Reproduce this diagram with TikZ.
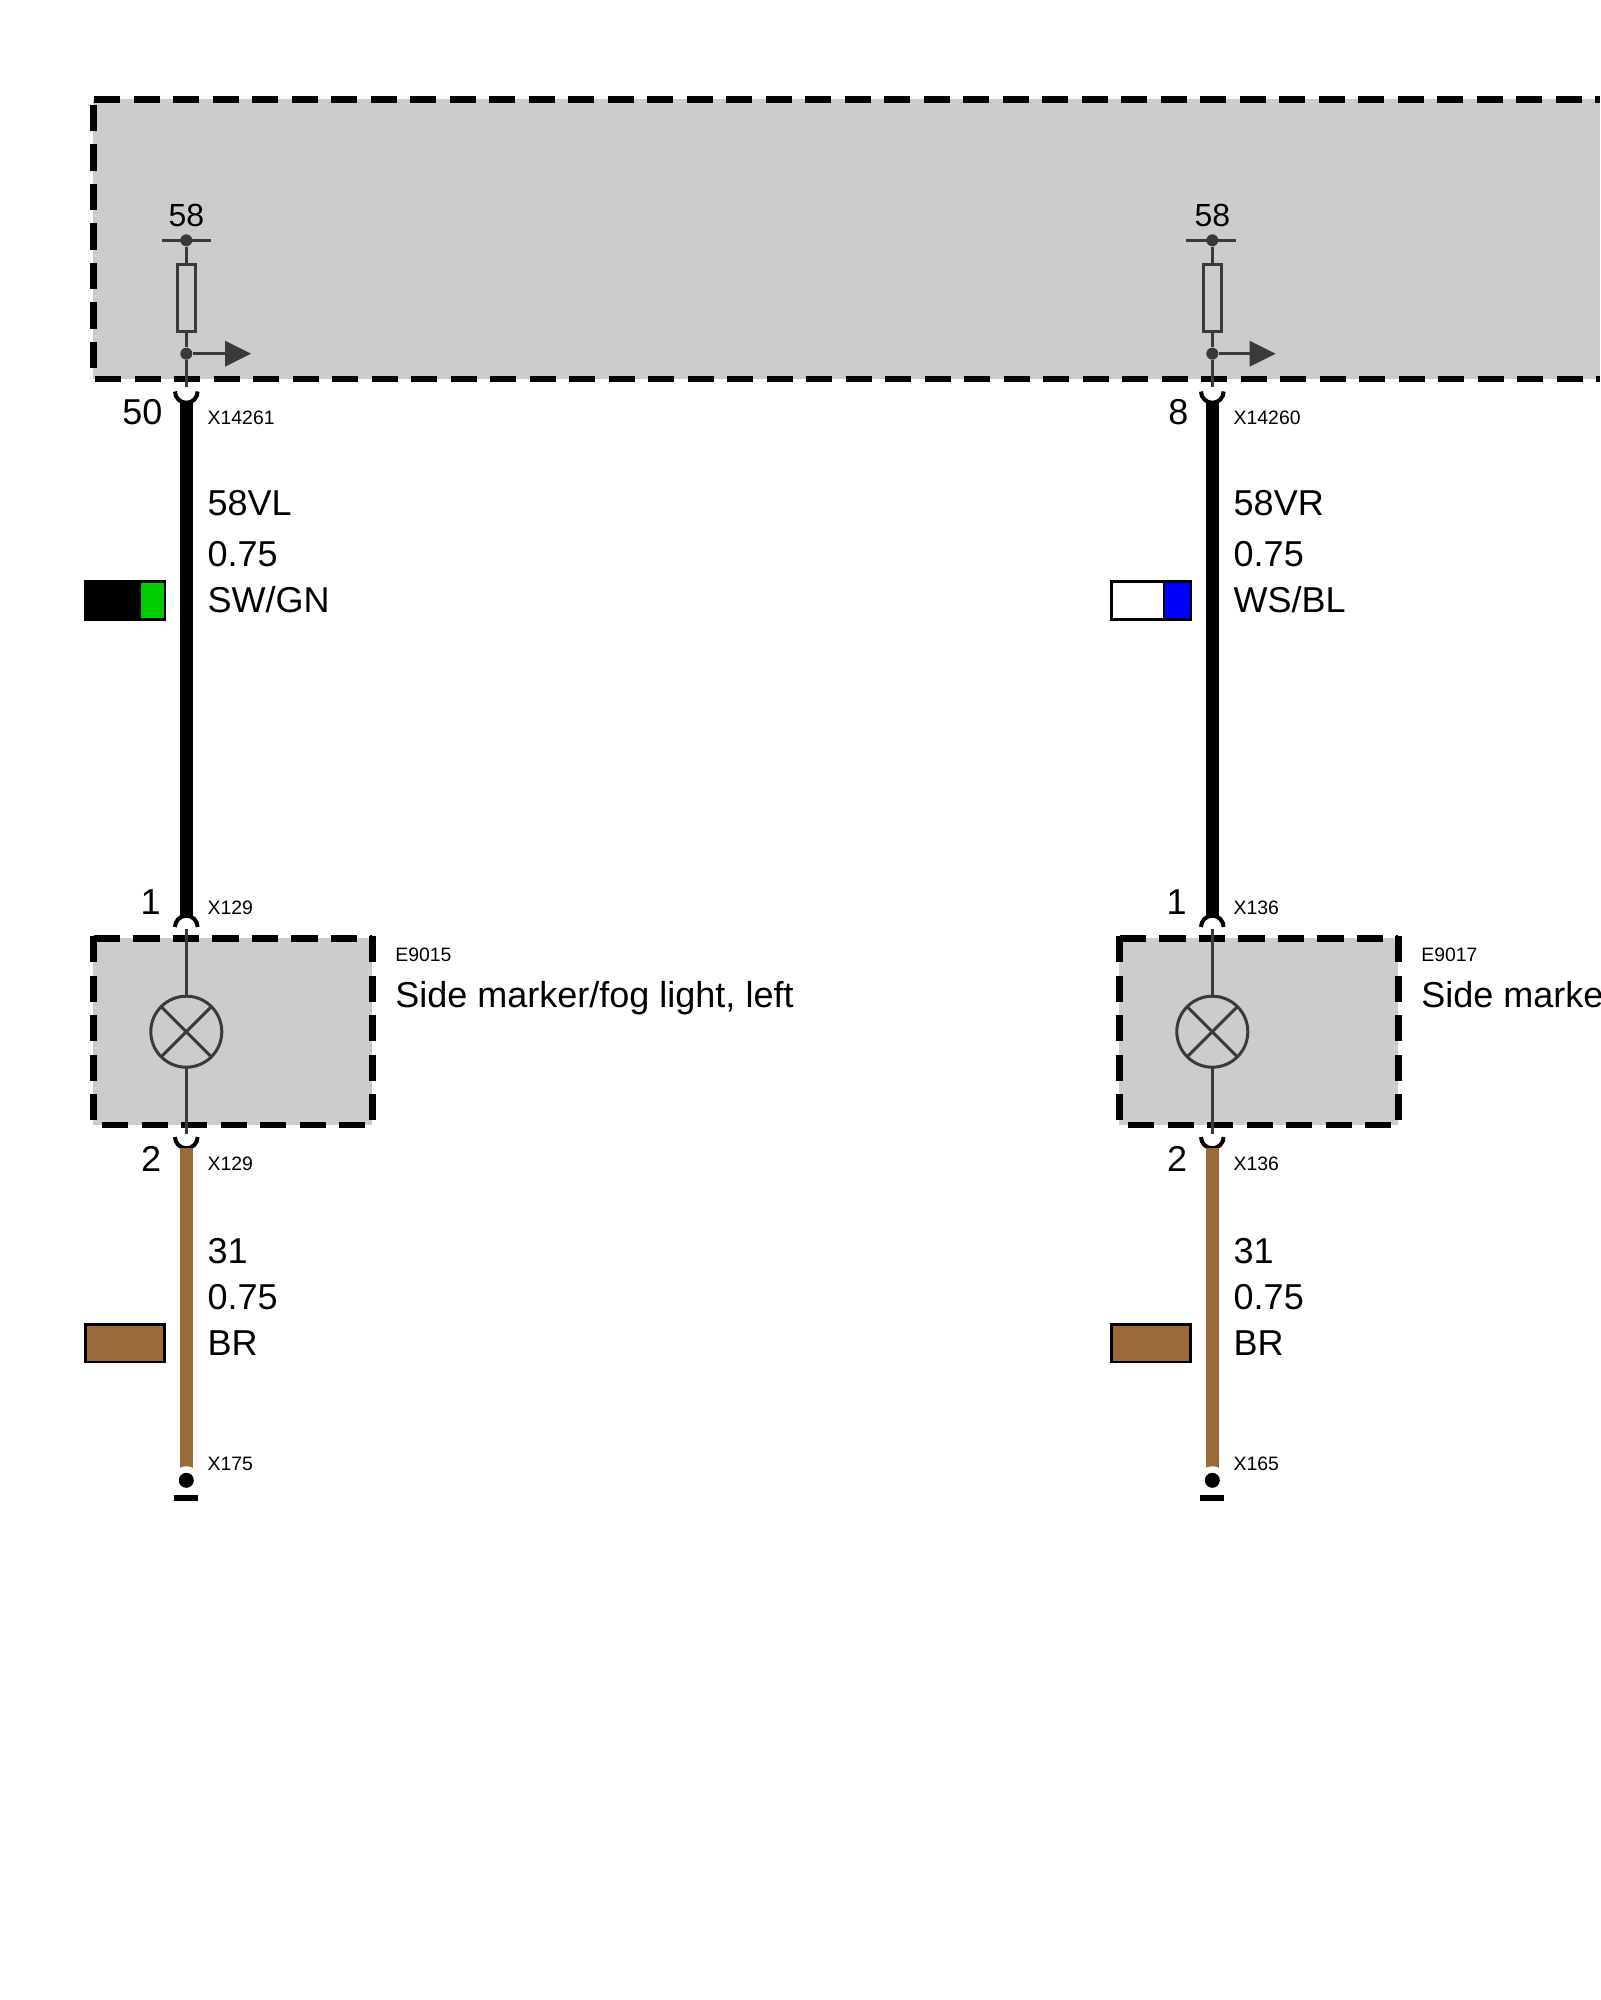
\documentclass[tikz,border=0pt]{standalone}
\usepackage{fontspec}
\setmainfont{Liberation Sans}
\definecolor{boxgrey}{HTML}{CCCCCC}
\definecolor{symb}{HTML}{3A3A3A}
\definecolor{brownw}{HTML}{9A6A38}
\definecolor{greenw}{HTML}{00CC00}
\definecolor{bluew}{HTML}{0000FF}
\tikzset{
  boxdash/.style={line width=3.3pt,dash pattern=on 13.2pt off 6.55pt,black},
  symline/.style={draw=symb,line width=1.5pt},
  symdot/.style={circle,fill=symb,inner sep=0pt,minimum size=6pt,name=#1},
  fuse/.style={rectangle,draw=symb,line width=1.5pt,fill=boxgrey,inner sep=0pt,outer sep=0pt,minimum width=8.9pt,minimum height=33.5pt},
  lamp/.style={circle,draw=symb,line width=1.5pt,inner sep=0pt,outer sep=0pt,minimum size=35.5pt},
  thickwire/.style={line width=6.3pt},
  cup/.style={draw=black,line width=2pt},
  legend/.style={rectangle,draw=black,line width=1.4pt,inner sep=0pt,outer sep=0pt,minimum height=18.7pt,minimum width=39.8pt},
  big/.style={anchor=base west,inner sep=0pt,font=\fontsize{18}{20}\selectfont},
  bigr/.style={anchor=base east,inner sep=0pt,font=\fontsize{18}{20}\selectfont},
  small/.style={anchor=base west,inner sep=0pt,font=\fontsize{9.7}{12}\selectfont},
  term/.style={anchor=base,inner sep=0pt,font=\fontsize{16}{18}\selectfont},
}
% #1 x shift #2 pin label pos #3 conn top #4 pin #5 wire name #6 colour legend and extras
% #7 conn lamp #8 comp code #9 comp name
\newcommand{\wirecolumn}[9]{%
  \begin{scope}[xshift=#1*0.5pt]
  \ifnum#1=0 \def\bs{0}\else\def\bs{-1.4}\fi
  % component box
  \fill[boxgrey] (93,938) rectangle (372,1125);
  \draw[boxdash] (93.7,938.3) -- (372,938.3);
  \draw[boxdash] (93.3,936) -- (93.3,1128);
  \draw[boxdash] (372.3,936) -- (372.3,1128);
  \draw[boxdash] (102,1125) -- (372,1125);
  % fuse block
  \node[term] (t58) at (186.3,227) {58};
  \node[symdot=hub] at (186.3,240.3) {};
  \coordinate (barL) at (161.7+\bs,240.3);
  \coordinate (barR) at (211.3+\bs,240.3);
  \draw[symline] (barL) -- (barR);
  \node[fuse] (fuse) at (186.3,298.5) {};
  \node[symdot=tap] at (186.3,353.7) {};
  \coordinate (tip) at (251+\bs,353.7);
  \coordinate (pinOut) at (186.3,387);
  \draw[symline] (hub) -- (fuse);
  \draw[symline] (fuse) -- (tap);
  \draw[symline] (tap) -- (pinOut);
  \draw[symline] (tap) -- (225+\bs,353.7);
  \fill[symb] (225+\bs,340.7) -- (tip) -- (225+\bs,366.7) -- cycle;
  % upper connector + wire
  \coordinate (cupA) at (186.3,402);
  \coordinate (cupB) at (186.3,916.5);
  \draw[cup] (175,391.5) arc[start angle=180,end angle=360,radius=5.65pt];
  \draw[cup] (175,927) arc[start angle=180,end angle=0,radius=5.65pt];
  \draw[thickwire,black] (cupA) -- (cupB);
  % lamp
  \node[lamp] (lamp) at (186.3,1031.7) {};
  \coordinate (lampIn) at (186.3,929.3);
  \coordinate (lampOut) at (186.3,1134);
  \draw[symline] (lampIn) -- (lamp);
  \draw[symline] (lamp) -- (lampOut);
  \draw[symline] (lamp.45) -- (lamp.225);
  \draw[symline] (lamp.135) -- (lamp.315);
  % lower connector + wire
  \coordinate (cupC) at (186.3,1148);
  \draw[cup] (175,1137) arc[start angle=180,end angle=360,radius=5.65pt];
  \node[circle,fill=black,inner sep=0pt,minimum size=7.5pt] (gnd) at (186.3,1480.3) {};
  \coordinate (gndTop) at (186.3,1470);
  \draw[thickwire,brownw] (cupC) -- (gndTop);
  \fill[white] (gnd) circle[radius=7pt];
  \node[circle,fill=black,inner sep=0pt,minimum size=7.5pt] at (gnd) {};
  \fill[black] (174.3,1495.3) rectangle (198.3,1501.3);
  % legends
  \node[legend,fill=brownw] (lgB) at (125,1343.2) {};
  #6
  % texts
  \node[small] at (207.3,424.3) {#3};
  \node[bigr] at (#2) {#4};
  \node[big] at (207.3,516) {#5};
  \node[big] at (207.3,566) {0.75};
  \node[small] at (207.3,914) {#7};
  \node[bigr] at (161,914.5) {1};
  \node[bigr] at (161.5,1171) {2};
  \node[small] at (207.3,1170.7) {#7};
  \node[small] at (395,961) {#8};
  \node[big] at (395,1007) {#9};
  \node[big] at (207.3,1263) {31};
  \node[big] at (207.3,1309.3) {0.75};
  \node[big] at (207.3,1355) {BR};
  \end{scope}%
}
\begin{document}
\begin{tikzpicture}[x=0.5pt,y=-0.5pt]
\useasboundingbox (0,0) rectangle (1600,2000);
\clip (0,0) rectangle (1600,2000);
\fill[white] (0,0) rectangle (1600,2000);
% main control unit box
\fill[boxgrey] (93.3,99.3) rectangle (1600,379);
\draw[boxdash] (94,99.3) -- (1600,99.3);
\draw[boxdash] (93.3,105) -- (93.3,372);
\draw[boxdash] (95,379) -- (1600,379);
\wirecolumn{0}{162.7,424.3}{X14261}{50}{58VL}{%
  \node[legend,fill=black] (lgA) at (125,600.4) {};
  \fill[greenw] (140,583) rectangle (164,618);
  \draw[line width=1.4pt] (140,581.7) -- (140,619.1);
  \node[big] at (207.3,612.5) {SW/GN};
  \node[small] at (207.3,1470) {X175};
}{X129}{E9015}{Side marker/fog light, left}
\wirecolumn{1026}{162.7,424.3}{X14260}{8}{58VR}{%
  \node[legend,fill=white] (lgA) at (125,600.4) {};
  \fill[bluew] (138,583) rectangle (164,618);
  \draw[line width=1.4pt] (138,581.7) -- (138,619.1);
  \node[big] at (207.3,612.5) {WS/BL};
  \node[small] at (207.3,1470) {X165};
}{X136}{E9017}{Side marke}
\end{tikzpicture}
\end{document}
